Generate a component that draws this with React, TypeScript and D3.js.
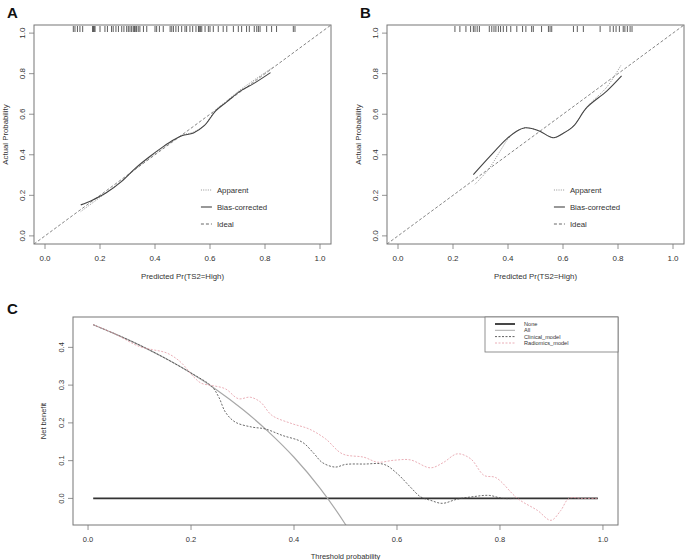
import React from "react";
import * as d3 from "d3";

const FONT = "'Liberation Sans', Arial, Helvetica, sans-serif";

// ---------- Calibration data ----------
const calTicks = [0, 0.2, 0.4, 0.6, 0.8, 1.0];

const rugA = [0.103, 0.109, 0.118, 0.127, 0.137, 0.173, 0.176, 0.179, 0.182, 0.2, 0.218, 0.227, 0.242, 0.248, 0.258, 0.267, 0.279, 0.287, 0.297, 0.303, 0.309, 0.315, 0.321, 0.325, 0.328, 0.333, 0.339, 0.345, 0.358, 0.37, 0.4, 0.406, 0.416, 0.43, 0.455, 0.461, 0.467, 0.476, 0.485, 0.497, 0.509, 0.515, 0.527, 0.537, 0.549, 0.558, 0.561, 0.565, 0.57, 0.582, 0.594, 0.6, 0.612, 0.63, 0.648, 0.661, 0.685, 0.703, 0.715, 0.733, 0.743, 0.761, 0.77, 0.776, 0.782, 0.806, 0.824, 0.842, 0.903, 0.909];
const apparentAX = [0.13, 0.17, 0.22, 0.28, 0.33, 0.38, 0.43, 0.47, 0.5, 0.54, 0.58, 0.62, 0.66, 0.71, 0.76, 0.83];
const apparentAY = [0.12, 0.16, 0.21, 0.272, 0.33, 0.385, 0.435, 0.472, 0.497, 0.512, 0.545, 0.62, 0.665, 0.72, 0.768, 0.832];
const biasAX = [0.13, 0.17, 0.22, 0.28, 0.33, 0.38, 0.43, 0.47, 0.5, 0.54, 0.58, 0.62, 0.66, 0.71, 0.76, 0.82];
const biasAY = [0.153, 0.175, 0.21, 0.27, 0.335, 0.39, 0.44, 0.475, 0.495, 0.508, 0.545, 0.615, 0.66, 0.714, 0.752, 0.805];

const rugB = [0.207, 0.225, 0.247, 0.264, 0.274, 0.28, 0.288, 0.296, 0.332, 0.341, 0.349, 0.356, 0.365, 0.373, 0.383, 0.395, 0.41, 0.432, 0.453, 0.465, 0.486, 0.492, 0.522, 0.547, 0.553, 0.559, 0.638, 0.652, 0.674, 0.735, 0.771, 0.783, 0.793, 0.805, 0.819, 0.825, 0.834, 0.844, 0.851];
const apparentBX = [0.28, 0.33, 0.37, 0.4, 0.43, 0.462, 0.49, 0.516, 0.565, 0.6, 0.64, 0.69, 0.76, 0.81];
const apparentBY = [0.255, 0.33, 0.415, 0.478, 0.515, 0.533, 0.528, 0.516, 0.484, 0.505, 0.545, 0.64, 0.735, 0.84];
const biasBX = [0.274, 0.335, 0.395, 0.43, 0.462, 0.49, 0.516, 0.565, 0.6, 0.638, 0.686, 0.759, 0.813];
const biasBY = [0.302, 0.393, 0.478, 0.515, 0.533, 0.528, 0.516, 0.484, 0.505, 0.541, 0.632, 0.714, 0.789];

const calLegend = ["Apparent", "Bias-corrected", "Ideal"];

// ---------- DCA data ----------
const dcaXTicks = [0, 0.2, 0.4, 0.6, 0.8, 1.0];
const dcaYTicks = [0, 0.1, 0.2, 0.3, 0.4];
const noneX = [0.01, 0.99];
const noneY = [0, 0];
const allX = [0.01, 0.05, 0.1, 0.15, 0.2, 0.25, 0.3, 0.35, 0.4, 0.45, 0.5, 0.52];
const allY = [0.46, 0.437, 0.406, 0.371, 0.332, 0.287, 0.236, 0.177, 0.109, 0.028, -0.069, -0.115];
const clinicalX = [0.01, 0.05, 0.1, 0.15, 0.2, 0.24, 0.254, 0.267, 0.286, 0.318, 0.344, 0.377, 0.416, 0.438, 0.455, 0.48, 0.5, 0.536, 0.575, 0.601, 0.626, 0.646, 0.665, 0.688, 0.717, 0.75, 0.779, 0.805, 0.83];
const clinicalY = [0.46, 0.437, 0.406, 0.371, 0.332, 0.297, 0.268, 0.228, 0.202, 0.189, 0.184, 0.167, 0.149, 0.12, 0.095, 0.083, 0.09, 0.091, 0.09, 0.065, 0.03, 0.004, -0.005, -0.013, -0.002, 0.005, 0.008, 0.0, 0.0];
const radiomicsX = [0.01, 0.05, 0.1, 0.125, 0.153, 0.179, 0.205, 0.22, 0.241, 0.267, 0.292, 0.315, 0.335, 0.357, 0.396, 0.429, 0.461, 0.494, 0.536, 0.562, 0.594, 0.626, 0.665, 0.69, 0.717, 0.743, 0.769, 0.792, 0.834, 0.873, 0.899, 0.918, 0.934, 0.96, 0.99];
const radiomicsY = [0.46, 0.437, 0.402, 0.394, 0.385, 0.362, 0.322, 0.305, 0.299, 0.29, 0.264, 0.268, 0.255, 0.22, 0.198, 0.184, 0.158, 0.118, 0.109, 0.096, 0.101, 0.102, 0.081, 0.095, 0.118, 0.105, 0.061, 0.055, 0.0, -0.032, -0.058, -0.032, 0.0, 0.0, 0.0];
const dcaLegend = ["None", "All", "Clinical_model", "Radiomics_model"];

const zip = (xs: number[], ys: number[]) => xs.map((v, i) => [v, ys[i]] as [number, number]);

const BOX = "#777";
const TXT = "#333";
const PINK = "#e59aa4";

function CalPanel(props: {
  id: string; label: string; left: number; labelX: number; rug: number[];
  appX: number[]; appY: number[]; biasX: number[]; biasY: number[];
}) {
  const { id, label, left, labelX, rug, appX, appY, biasX, biasY } = props;
  const right = left + 297;
  const top = 25, bottom = 244;
  const x = d3.scaleLinear().domain([-0.04, 1.04]).range([left, right]);
  const y = d3.scaleLinear().domain([-0.04, 1.04]).range([bottom, top]);
  const line = d3.line<[number, number]>().x(d => x(d[0])).y(d => y(d[1])).curve(d3.curveCatmullRom);
  const legY = [190, 207, 224];
  const legStyles = [
    { dash: "1,1.3", w: 0.9, c: "#888" },
    { dash: "", w: 1.1, c: "#444" },
    { dash: "3,2", w: 0.9, c: "#555" },
  ];
  return (
    <g>
      <defs>
        <clipPath id={id}><rect x={left} y={top} width={right - left} height={bottom - top} /></clipPath>
      </defs>
      <text x={labelX} y={18} fontSize={15} fontWeight="bold" fontFamily={FONT} fill="#111">{label}</text>
      {/* ideal line */}
      <g clipPath={`url(#${id})`}>
        <line x1={x(-0.04)} y1={y(-0.04)} x2={x(1.04)} y2={y(1.04)} stroke="#666" strokeWidth={0.8} strokeDasharray="3,2" />
      </g>
      <path d={line(zip(appX, appY)) || ""} fill="none" stroke="#888" strokeWidth={0.9} strokeDasharray="1,1.3" />
      <path d={line(zip(biasX, biasY)) || ""} fill="none" stroke="#444" strokeWidth={1.1} />
      {/* rug */}
      {rug.map((r, i) => (
        <line key={i} x1={x(r)} x2={x(r)} y1={top + 1} y2={top + 7} stroke="#333" strokeWidth={0.8} />
      ))}
      {/* box */}
      <rect x={left} y={top} width={right - left} height={bottom - top} fill="none" stroke={BOX} strokeWidth={1} />
      {/* x axis */}
      {calTicks.map(t => (
        <g key={"x" + t}>
          <line x1={x(t)} x2={x(t)} y1={bottom} y2={bottom + 5} stroke={BOX} strokeWidth={0.8} />
          <text x={x(t)} y={261} fontSize={8} textAnchor="middle" fontFamily={FONT} fill={TXT}>{t.toFixed(1)}</text>
        </g>
      ))}
      {calTicks.map(t => (
        <g key={"y" + t}>
          <line x1={left - 5} x2={left} y1={y(t)} y2={y(t)} stroke={BOX} strokeWidth={0.8} />
          <text transform={`translate(${left - 9},${y(t)}) rotate(-90)`} fontSize={8} textAnchor="middle" fontFamily={FONT} fill={TXT}>{t.toFixed(1)}</text>
        </g>
      ))}
      <text x={(left + right) / 2} y={279} fontSize={7.8} textAnchor="middle" fontFamily={FONT} fill={TXT}>Predicted Pr(TS2=High)</text>
      <text transform={`translate(${left - 26},${(top + bottom) / 2}) rotate(-90)`} fontSize={7.8} textAnchor="middle" fontFamily={FONT} fill={TXT}>Actual Probability</text>
      {/* legend */}
      {calLegend.map((name, i) => (
        <g key={name}>
          <line x1={x(0.567)} x2={x(0.607)} y1={legY[i]} y2={legY[i]} stroke={legStyles[i].c} strokeWidth={legStyles[i].w} strokeDasharray={legStyles[i].dash} />
          <text x={x(0.625)} y={legY[i] + 3} fontSize={7.8} fontFamily={FONT} fill={TXT}>{name}</text>
        </g>
      ))}
    </g>
  );
}

function DcaPanel() {
  const left = 73, right = 618, top = 317, bottom = 525;
  const x = d3.scaleLinear().domain([-0.0292, 1.0292]).range([left, right]);
  const y = d3.scaleLinear().domain([-0.0704, 0.4804]).range([bottom, top]);
  const line = d3.line<[number, number]>().x(d => x(d[0])).y(d => y(d[1])).curve(d3.curveCatmullRom);
  const legRows = [324, 330.3, 336.6, 343];
  const legStyles = [
    { c: "#333", w: 1.8, dash: "" },
    { c: "#aaa", w: 1, dash: "" },
    { c: "#333", w: 0.8, dash: "2,1.5" },
    { c: PINK, w: 0.8, dash: "2,1.5" },
  ];
  return (
    <g>
      <defs>
        <clipPath id="clipC"><rect x={left} y={top} width={right - left} height={bottom - top} /></clipPath>
      </defs>
      <text x={7} y={314} fontSize={15} fontWeight="bold" fontFamily={FONT} fill="#111">C</text>
      <g clipPath="url(#clipC)">
        <path d={line(zip(noneX, noneY)) || ""} fill="none" stroke="#333" strokeWidth={1.6} />
        <path d={line(zip(allX, allY)) || ""} fill="none" stroke="#a8a8a8" strokeWidth={1.2} />
        <path d={line(zip(clinicalX, clinicalY)) || ""} fill="none" stroke="#444" strokeWidth={0.8} strokeDasharray="2,1.5" />
        <path d={line(zip(radiomicsX, radiomicsY)) || ""} fill="none" stroke={PINK} strokeWidth={0.8} strokeDasharray="2,1.5" />
      </g>
      <rect x={left} y={top} width={right - left} height={bottom - top} fill="none" stroke={BOX} strokeWidth={1} />
      {dcaXTicks.map(t => (
        <g key={"x" + t}>
          <line x1={x(t)} x2={x(t)} y1={bottom} y2={bottom + 5} stroke={BOX} strokeWidth={0.8} />
          <text x={x(t)} y={542} fontSize={7.5} textAnchor="middle" fontFamily={FONT} fill={TXT}>{t.toFixed(1)}</text>
        </g>
      ))}
      {dcaYTicks.map(t => (
        <g key={"y" + t}>
          <line x1={left - 5} x2={left} y1={y(t)} y2={y(t)} stroke={BOX} strokeWidth={0.8} />
          <text transform={`translate(${left - 9},${y(t)}) rotate(-90)`} fontSize={7.5} textAnchor="middle" fontFamily={FONT} fill={TXT}>{t.toFixed(1)}</text>
        </g>
      ))}
      <text x={(left + right) / 2} y={559} fontSize={7.5} textAnchor="middle" fontFamily={FONT} fill={TXT}>Threshold probability</text>
      <text transform={`translate(${left - 27},${(top + bottom) / 2}) rotate(-90)`} fontSize={7.5} textAnchor="middle" fontFamily={FONT} fill={TXT}>Net benefit</text>
      {/* legend */}
      <rect x={485} y={top} width={right - 485} height={352 - top} fill="white" stroke={BOX} strokeWidth={0.8} />
      {dcaLegend.map((name, i) => (
        <g key={name}>
          <line x1={495} x2={515} y1={legRows[i]} y2={legRows[i]} stroke={legStyles[i].c} strokeWidth={legStyles[i].w} strokeDasharray={legStyles[i].dash} />
          <text x={524} y={legRows[i] + 2} fontSize={5.6} fontFamily={FONT} fill={TXT}>{name}</text>
        </g>
      ))}
    </g>
  );
}

export default function App() {
  return (
    <div style={{ position: "absolute", left: 0, top: 0 }}>
      <svg width={685} height={560} style={{ display: "block", background: "white" }}>
        <CalPanel id="clipA" label="A" left={34} labelX={7} rug={rugA} appX={apparentAX} appY={apparentAY} biasX={biasAX} biasY={biasAY} />
        <CalPanel id="clipB" label="B" left={387} labelX={360} rug={rugB} appX={apparentBX} appY={apparentBY} biasX={biasBX} biasY={biasBY} />
        <DcaPanel />
      </svg>
    </div>
  );
}
